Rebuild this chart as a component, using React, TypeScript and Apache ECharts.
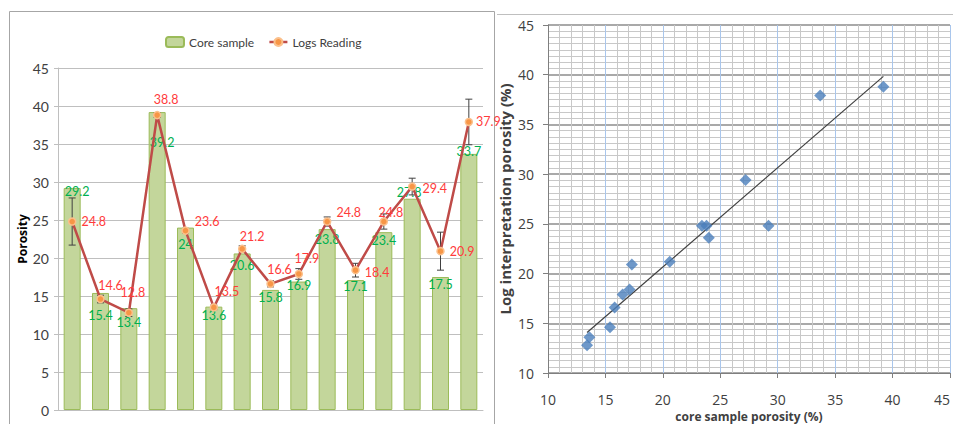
import React, { useEffect, useRef } from "react";
import * as echarts from "echarts";

const categories = ["1", "2", "3", "4", "5", "6", "7", "8", "9", "10", "11", "12", "13", "14", "15"];
const coreSample = [29.2, 15.4, 13.4, 39.2, 24, 13.6, 20.6, 15.8, 16.9, 23.8, 17.1, 23.4, 27.8, 17.5, 33.7];
const logsReading = [24.8, 14.6, 12.8, 38.8, 23.6, 13.5, 21.2, 16.6, 17.9, 24.8, 18.4, 24.8, 29.4, 20.9, 37.9];
const logsError = [3.1, 0.5, 0.5, 0.3, 0.3, 0.3, 0.4, 0.4, 0.7, 0.6, 0.9, 1.0, 1.1, 2.5, 3.0];

const scatterCore = [13.4, 13.6, 15.4, 15.8, 16.5, 17.1, 17.3, 20.6, 23.4, 23.8, 24.0, 27.2, 29.2, 33.7, 39.2];
const scatterLog = [12.8, 13.6, 14.6, 16.6, 17.9, 18.4, 20.9, 21.2, 24.8, 24.8, 23.6, 29.4, 24.8, 37.9, 38.8];

// label layout tweaks (pixel nudges so labels sit where the reference puts them)
const coreLabelNudge: [number, number][] = [
  [5, -6], [0, 13], [0, 5], [5, 21], [0, 7], [0, -1], [0, 3], [0, -2],
  [0, -6], [0, 1], [0, -3], [0, -1], [-3, -16], [0, -2], [0, -12],
];
const logsLabelPlace: { pos: string; off: [number, number] }[] = [
  { pos: "right", off: [0, 0] },
  { pos: "top", off: [10, 2] },
  { pos: "top", off: [4, -4] },
  { pos: "top", off: [9, 0] },
  { pos: "right", off: [0, -9] },
  { pos: "top", off: [13, 0] },
  { pos: "top", off: [10, 3] },
  { pos: "top", off: [9, 1] },
  { pos: "top", off: [8, 0] },
  { pos: "right", off: [0, -9] },
  { pos: "right", off: [0, 2] },
  { pos: "top", off: [7, 7] },
  { pos: "right", off: [1, 2] },
  { pos: "right", off: [0, 0] },
  { pos: "right", off: [-2, 0] },
];

const FONT = "Lato, 'Open Sans', sans-serif";
const FONT2 = "'Open Sans', sans-serif";

function regression(xs: number[], ys: number[]) {
  const n = xs.length;
  const mx = xs.reduce((a, b) => a + b, 0) / n;
  const my = ys.reduce((a, b) => a + b, 0) / n;
  let sxy = 0;
  let sxx = 0;
  for (let i = 0; i < n; i++) {
    sxy += (xs[i] - mx) * (ys[i] - my);
    sxx += (xs[i] - mx) * (xs[i] - mx);
  }
  const b = sxy / sxx;
  return { b, a: my - b * mx };
}

export default function App() {
  const ref = useRef<HTMLDivElement>(null);
  useEffect(() => {
    if (!ref.current) return;
    const chart = echarts.init(ref.current, null, { renderer: "svg" });
    const reg = regression(scatterCore, scatterLog);
    const xMin = Math.min(...scatterCore);
    const xMax = Math.max(...scatterCore);
    const trend = [
      [xMin, reg.a + reg.b * xMin],
      [xMax, reg.a + reg.b * xMax],
    ];
    const errData = logsReading.map((v, i) => [i, v - logsError[i], v + logsError[i]]);
    const scatterData = scatterCore.map((x, i) => [x, scatterLog[i]]);
    const barData = coreSample.map((v, i) => ({
      value: v,
      label: { offset: coreLabelNudge[i] },
    }));
    const lineData = logsReading.map((v, i) => ({
      value: v,
      label: { position: logsLabelPlace[i].pos, offset: logsLabelPlace[i].off },
    }));

    chart.setOption({
      animation: false,
      backgroundColor: "#ffffff",
      textStyle: { fontFamily: FONT },
      graphic: [
        {
          type: "rect",
          shape: { x: 9.5, y: 11.5, width: 485, height: 420 },
          style: { fill: "none", stroke: "#a6a6a6", lineWidth: 1 },
          silent: true,
        },
        {
          type: "line",
          shape: { x1: 497, y1: 14.5, x2: 953, y2: 14.5 },
          style: { stroke: "#bfbfbf", lineWidth: 1 },
          silent: true,
        },
      ],
      legend: {
        data: ["Core sample", "Logs Reading"],
        left: 160,
        top: 31,
        itemWidth: 18,
        itemHeight: 10,
        itemGap: 14,
        lineStyle: { color: "#bf4b48", width: 2.5 },
        textStyle: { fontFamily: FONT, fontSize: 12, color: "#404040" },
      },
      grid: [
        { left: 58, right: 470, top: 68, bottom: 14, outerBoundsMode: "none", containLabel: false },
        { left: 548, right: 3, top: 25, bottom: 51, outerBoundsMode: "none", containLabel: false },
      ],
      xAxis: [
        {
          type: "category",
          gridIndex: 0,
          data: categories,
          axisLine: { lineStyle: { color: "#bfbfbf" } },
          axisTick: { show: false },
          axisLabel: { show: false },
        },
        {
          type: "value",
          gridIndex: 1,
          min: 10,
          max: 45,
          interval: 5,
          name: "core sample porosity (%)",
          nameLocation: "middle",
          nameGap: 33,
          nameTextStyle: { fontFamily: FONT2, fontSize: 12, fontWeight: "bold", color: "#404040" },
          axisLine: { onZero: false, lineStyle: { color: "#7f7f7f" } },
          axisTick: { show: true, length: 5, lineStyle: { color: "#7f7f7f" } },
          axisLabel: {
            margin: 19,
            fontFamily: FONT2,
            fontSize: 14,
            color: "#404040",
            alignMaxLabel: "right",
          },
          splitLine: { show: true, lineStyle: { color: "#a9c6ec", width: 1 } },
          minorTick: { show: false, splitNumber: 5 },
          minorSplitLine: { show: true, lineStyle: { color: "#c8c8c8", width: 1 } },
        },
      ],
      yAxis: [
        {
          type: "value",
          gridIndex: 0,
          min: 0,
          max: 45,
          interval: 5,
          name: "Porosity",
          nameLocation: "middle",
          nameGap: 15,
          nameTextStyle: { fontFamily: FONT2, fontSize: 12, fontWeight: "bold", color: "#000000" },
          axisLine: { show: true, lineStyle: { color: "#bfbfbf" } },
          axisTick: { show: true, length: 4, lineStyle: { color: "#bfbfbf" } },
          axisLabel: { margin: 9, fontFamily: FONT, fontSize: 14, color: "#404040" },
          splitLine: { show: true, lineStyle: { color: "#bfbfbf", width: 1 } },
        },
        {
          type: "value",
          gridIndex: 1,
          min: 10,
          max: 45,
          interval: 5,
          name: "Log interpretation porosity (%)",
          nameLocation: "middle",
          nameGap: 36,
          nameTextStyle: { fontFamily: FONT2, fontSize: 15, fontWeight: "bold", color: "#404040" },
          axisLine: { show: true, onZero: false, lineStyle: { color: "#7f7f7f" } },
          axisTick: { show: true, length: 5, lineStyle: { color: "#7f7f7f" } },
          axisLabel: { margin: 14, fontFamily: FONT2, fontSize: 14, color: "#404040" },
          splitLine: { show: true, lineStyle: { color: "#8c8c8c", width: 1.5 } },
          minorTick: { show: false, splitNumber: 8 },
          minorSplitLine: { show: true, lineStyle: { color: "#c8c8c8", width: 1 } },
        },
      ],
      series: [
        {
          name: "Core sample",
          type: "bar",
          xAxisIndex: 0,
          yAxisIndex: 0,
          data: barData,
          barWidth: 17,
          itemStyle: { color: "#c3d69b", borderColor: "#9bbb59", borderWidth: 1 },
          label: {
            show: true,
            position: "insideTop",
            distance: 3,
            color: "#00b050",
            fontFamily: FONT,
            fontSize: 12.5,
          },
          z: 1,
        },
        {
          name: "errorbars",
          type: "custom",
          xAxisIndex: 0,
          yAxisIndex: 0,
          data: errData,
          encode: { x: 0, y: [1, 2] },
          renderItem: (params: any, api: any) => {
            const idx = api.value(0);
            const lo = api.coord([idx, api.value(1)]);
            const hi = api.coord([idx, api.value(2)]);
            const cap = 3.5;
            const st = { stroke: "#404040", lineWidth: 1 };
            return {
              type: "group",
              children: [
                { type: "line", shape: { x1: lo[0], y1: lo[1], x2: hi[0], y2: hi[1] }, style: st },
                { type: "line", shape: { x1: lo[0] - cap, y1: lo[1], x2: lo[0] + cap, y2: lo[1] }, style: st },
                { type: "line", shape: { x1: hi[0] - cap, y1: hi[1], x2: hi[0] + cap, y2: hi[1] }, style: st },
              ],
            };
          },
          z: 2,
        },
        {
          name: "Logs Reading",
          type: "line",
          xAxisIndex: 0,
          yAxisIndex: 0,
          data: lineData,
          symbol: "circle",
          symbolSize: 7,
          lineStyle: { color: "#bf4b48", width: 2.5 },
          itemStyle: { color: "#f79646", borderColor: "#fbc08c", borderWidth: 1.5 },
          label: {
            show: true,
            position: "right",
            distance: 5,
            color: "#ff3b3b",
            fontFamily: FONT,
            fontSize: 12.5,
          },
          z: 3,
        },
        {
          name: "scatter",
          type: "scatter",
          xAxisIndex: 1,
          yAxisIndex: 1,
          data: scatterData,
          symbol: "diamond",
          symbolSize: 12,
          itemStyle: { color: "#4a7ebb" },
          z: 4,
        },
        {
          name: "trend",
          type: "line",
          xAxisIndex: 1,
          yAxisIndex: 1,
          data: trend,
          symbol: "none",
          lineStyle: { color: "#404040", width: 1.2 },
          z: 3,
        },
      ],
    });
    return () => chart.dispose();
  }, []);
  return (
    <div
      ref={ref}
      style={{ position: "fixed", left: 0, top: 0, width: 953, height: 424, background: "#fff" }}
    />
  );
}
